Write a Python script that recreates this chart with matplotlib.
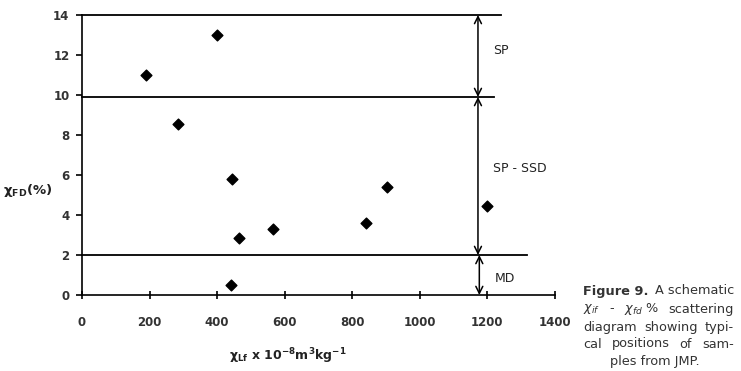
import matplotlib
matplotlib.use("Agg")
import matplotlib.pyplot as plt

# Data
chi_lf = [190, 284, 400, 444, 464, 566, 842, 904, 1200, 442]
chi_fd = [11.0, 8.55, 13.0, 5.8, 2.85, 3.3, 3.6, 5.4, 4.45, 0.5]
x_ticks = [0, 200, 400, 600, 800, 1000, 1200, 1400]
y_ticks = [0, 2, 4, 6, 8, 10, 12, 14]
boundaries = [14, 9.9, 2]
boundary_ends = [1240, 1220, 1317]
zones = ["SP", "SP - SSD", "MD"]
zone_spans = [(9.9, 14), (2, 9.9), (0, 2)]
zone_arrow_x = [1172, 1172, 1176]
zone_label_y = [12.2, 6.3, 0.85]
caption_lines = [
    [("Figure 9.", "bold"), ("A schematic", "normal")],
    [(r"$\chi_{if}$", "normal"), ("-", "normal"), (r"$\chi_{fd}$ %", "normal"), ("scattering", "normal")],
    [("diagram", "normal"), ("showing", "normal"), ("typi-", "normal")],
    [("cal", "normal"), ("positions", "normal"), ("of", "normal"), ("sam-", "normal")],
]
caption_last = "ples from JMP."

fig = plt.figure(figsize=(7.41, 3.71), dpi=100)
ax = fig.add_axes([82/741, 76/371, 473/741, 280/371])

ax.scatter(chi_lf, chi_fd, marker="D", s=30, color="black", zorder=3)

for yb, xe in zip(boundaries, boundary_ends):
    ax.plot([0, xe], [yb, yb], color="black", lw=1.3, clip_on=False)

for (y0, y1), xa, lab, ly in zip(zone_spans, zone_arrow_x, zones, zone_label_y):
    ax.annotate("", xy=(xa, y1), xytext=(xa, y0),
                arrowprops=dict(arrowstyle="<->,head_length=0.5,head_width=0.25",
                                color="black", lw=1.1, shrinkA=0, shrinkB=0),
                annotation_clip=False)
    ax.text(xa + 45, ly, lab, fontsize=9, color="#222222", ha="left", va="center")

ax.set_xlim(0, 1400)
ax.set_ylim(0, 14)
ax.set_xticks(x_ticks)
ax.set_yticks(y_ticks)
ax.spines["top"].set_visible(False)
ax.spines["right"].set_visible(False)
ax.spines["left"].set_linewidth(1.2)
ax.spines["bottom"].set_linewidth(1.2)
ax.tick_params(axis="x", direction="inout", length=6, width=1.2, pad=12,
               labelsize=8.5, labelcolor="#333333")
ax.tick_params(axis="y", direction="out", length=4, width=1.2, pad=5,
               labelsize=8.5, labelcolor="#333333")
for lbl in ax.get_xticklabels() + ax.get_yticklabels():
    lbl.set_fontweight("bold")

fig.text(3/741, 1 - 190/371, r"$\mathbf{\chi_{FD}}$(%)", fontsize=9.5,
         fontweight="bold", color="#222222", ha="left", va="center")
fig.text(288/741, 1 - 356/371, r"$\mathbf{\chi_{Lf}}$ x 10$^{\mathbf{-8}}$m$^{\mathbf{3}}$kg$^{\mathbf{-1}}$",
         fontsize=9, fontweight="bold", color="#222222", ha="center", va="center")

# Caption (justified)
cap_c = "#333333"
fs = 9.3
L, R = 583, 734
line_y = [291, 309, 327, 344]
renderer = fig.canvas.get_renderer()
for words, py in zip(caption_lines, line_y):
    texts = [fig.text(0, 1 - py/371, w, fontsize=fs, fontweight=wt, color=cap_c,
                      ha="left", va="center") for w, wt in words]
    widths = [tx.get_window_extent(renderer).width for tx in texts]
    gap = (R - L - sum(widths)) / (len(words) - 1)
    x = L
    for tx, wd in zip(texts, widths):
        tx.set_x(x / 741)
        x += wd + gap
fig.text(655/741, 1 - 361/371, caption_last, fontsize=fs, color=cap_c, ha="center", va="center")

fig.savefig("out.png", dpi=100)
